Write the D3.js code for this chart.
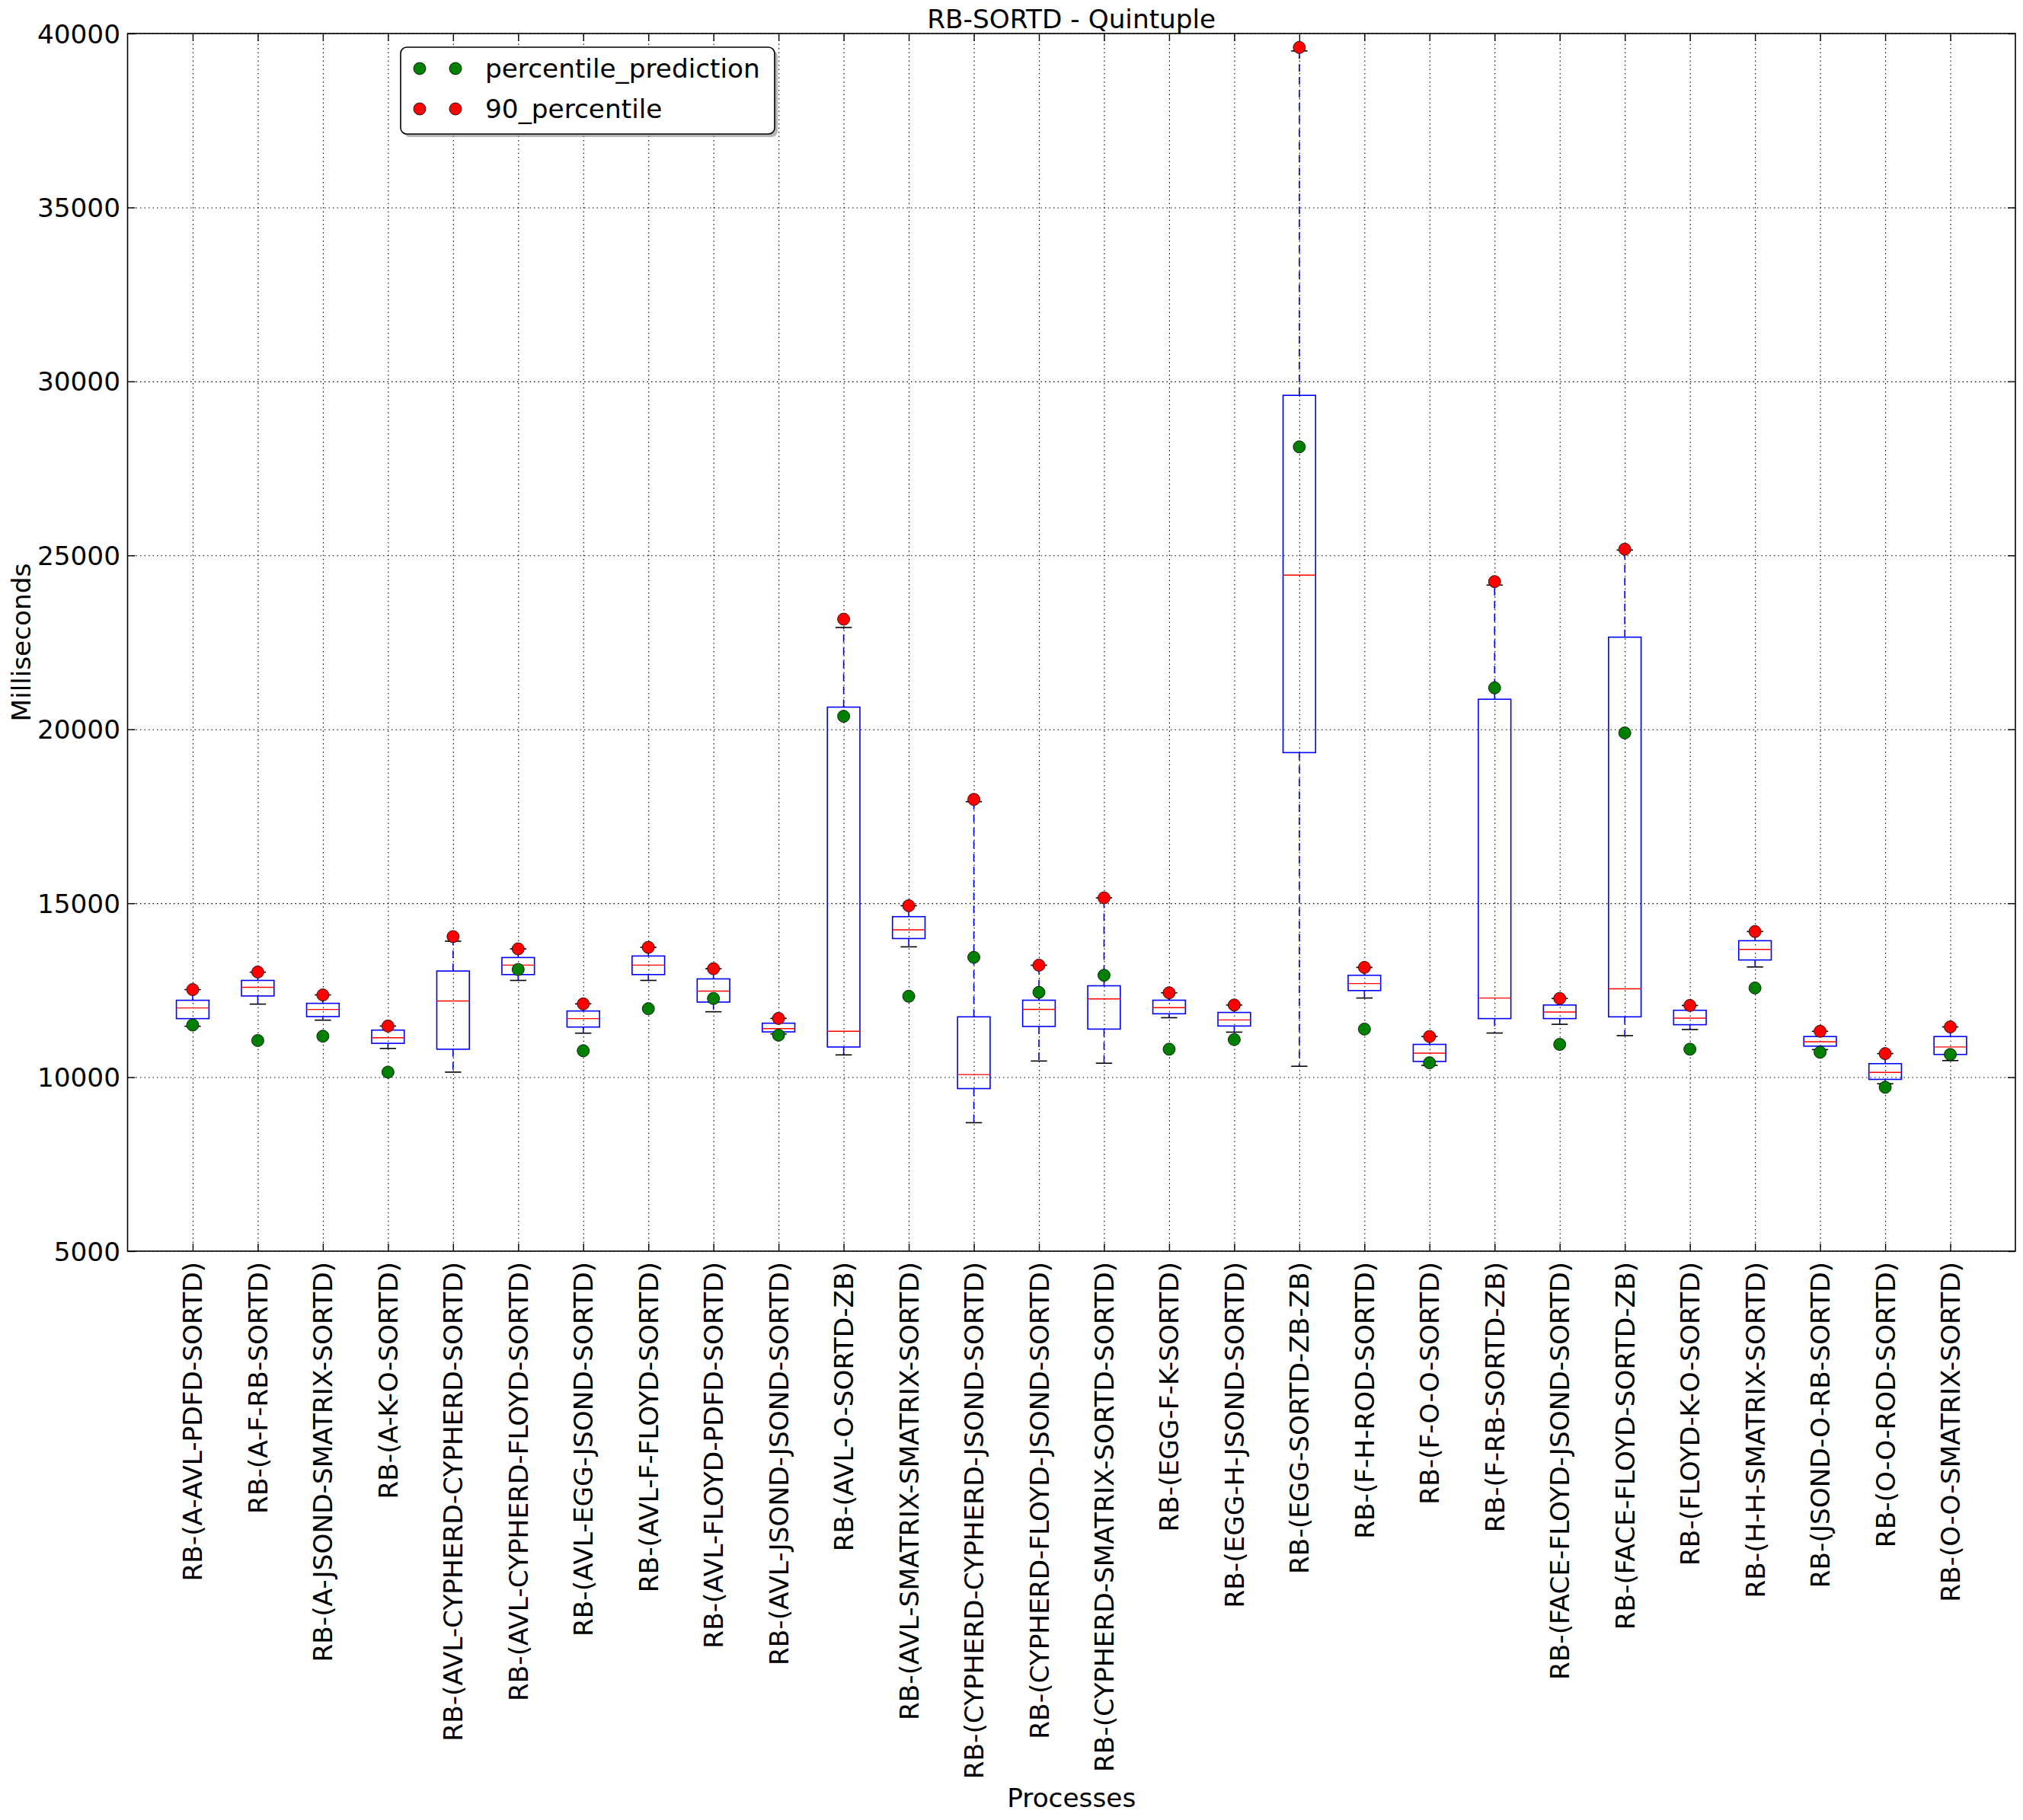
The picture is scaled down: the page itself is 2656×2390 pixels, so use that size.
<!DOCTYPE html>
<html><head><meta charset="utf-8">
<script src="https://cdn.jsdelivr.net/npm/d3@7"></script>
<style>
body{margin:0;background:#fff}
svg{display:block}
text{font-family:"DejaVu Sans",sans-serif;fill:#000}
</style>
</head><body>
<svg id="c" width="2656" height="2390"></svg>
<script>
const categories = [
  "RB-(A-AVL-PDFD-SORTD)","RB-(A-F-RB-SORTD)","RB-(A-JSOND-SMATRIX-SORTD)","RB-(A-K-O-SORTD)",
  "RB-(AVL-CYPHERD-CYPHERD-SORTD)","RB-(AVL-CYPHERD-FLOYD-SORTD)","RB-(AVL-EGG-JSOND-SORTD)",
  "RB-(AVL-F-FLOYD-SORTD)","RB-(AVL-FLOYD-PDFD-SORTD)","RB-(AVL-JSOND-JSOND-SORTD)",
  "RB-(AVL-O-SORTD-ZB)","RB-(AVL-SMATRIX-SMATRIX-SORTD)","RB-(CYPHERD-CYPHERD-JSOND-SORTD)",
  "RB-(CYPHERD-FLOYD-JSOND-SORTD)","RB-(CYPHERD-SMATRIX-SORTD-SORTD)","RB-(EGG-F-K-SORTD)",
  "RB-(EGG-H-JSOND-SORTD)","RB-(EGG-SORTD-ZB-ZB)","RB-(F-H-ROD-SORTD)","RB-(F-O-O-SORTD)",
  "RB-(F-RB-SORTD-ZB)","RB-(FACE-FLOYD-JSOND-SORTD)","RB-(FACE-FLOYD-SORTD-ZB)",
  "RB-(FLOYD-K-O-SORTD)","RB-(H-H-SMATRIX-SORTD)","RB-(JSOND-O-RB-SORTD)",
  "RB-(O-O-ROD-SORTD)","RB-(O-O-SMATRIX-SORTD)"
];
const whiskerLow  = [11464,12101,11640,10827,10146,12782,11266,12782,11881,11244,10641,13747,8692,10465,10402,11710,11295,10314,12276,10340,11270,11521,11195,11371,13169,10792,9811,10478];
const q1          = [11684,12335,11742,10974,10805,12950,11442,12950,12159,11303,10868,13986,9673,11459,11383,11823,11471,19330,12490,10453,11685,11685,11735,11509,13370,10893,9937,10654];
const medians     = [11991,12584,11947,11135,12189,13221,11684,13221,12474,11398,11320,14237,10075,11949,12251,11999,11647,24432,12691,10692,12276,11874,12540,11697,13672,11018,10138,10868];
const q3          = [12211,12782,12123,11354,13052,13440,11903,13484,12826,11552,20638,14615,11735,12213,12628,12213,11861,29599,12930,10943,20864,12075,22649,11924,13923,11169,10390,11169];
const whiskerHigh = [12518,13020,12364,11471,13909,13689,12108,13733,13118,11690,22926,14929,17921,13219,15155,12427,12075,39499,13156,11169,24146,12263,25152,12062,14187,11320,10679,11446];
const percentile90 = [12518,13023,12364,11471,14041,13689,12108,13733,13118,11690,23165,14929,17985,13219,15155,12427,12075,39599,13156,11169,24246,12263,25177,12062,14187,11320,10679,11446];
const percentilePrediction = [11500,11054,11179,10146,null,13096,10761,11969,12262,11208,20374,12326,13445,12439,12930,10805,11081,28118,11383,10415,21191,10943,19896,10805,12565,10717,9711,10654];
const yTicks = [5000,10000,15000,20000,25000,30000,35000,40000];
const legendLabels = ["percentile_prediction","90_percentile"];
const legendColors = ["#008000","#ff0000"];

const FS = 34.3;
const R = 8;
const m = {left:167.5, right:2646, top:44, bottom:1643};
const pw = m.right - m.left, ph = m.bottom - m.top;
const positions = categories.map((d,i)=>i+1);
const x = d3.scaleLinear().domain([0, categories.length + 1]).range([m.left, m.right]);
const y = d3.scaleLinear().domain([5000, 40000]).range([m.bottom, m.top]);
const svg = d3.select("#c");
svg.append("rect").attr("width",2656).attr("height",2390).attr("fill","#fff");

// grid
const gridStyle = g => {
  g.select(".domain").remove();
  g.selectAll("line").attr("stroke","#000").attr("stroke-width",1.1).attr("stroke-dasharray","1.5,4");
};
svg.append("g").attr("transform",`translate(0,${m.bottom})`)
  .call(d3.axisBottom(x).tickValues(positions).tickSize(-ph).tickFormat(""))
  .call(gridStyle);
svg.append("g").attr("transform",`translate(${m.left},0)`)
  .call(d3.axisLeft(y).tickValues(yTicks).tickSize(-pw).tickFormat(""))
  .call(gridStyle);

// boxes
const boxes = svg.append("g");
const hw = 0.25, cw = 0.125;
positions.forEach((p,i)=>{
  const g = boxes.append("g");
  g.append("line").attr("x1",x(p)).attr("x2",x(p)).attr("y1",y(q3[i])).attr("y2",y(whiskerHigh[i]))
    .attr("stroke","#0000ff").attr("stroke-width",1.6).attr("stroke-dasharray","10,7");
  g.append("line").attr("x1",x(p)).attr("x2",x(p)).attr("y1",y(q1[i])).attr("y2",y(whiskerLow[i]))
    .attr("stroke","#0000ff").attr("stroke-width",1.6).attr("stroke-dasharray","10,7");
  [whiskerHigh[i], whiskerLow[i]].forEach(v=>{
    g.append("line").attr("x1",x(p-cw)).attr("x2",x(p+cw)).attr("y1",y(v)).attr("y2",y(v))
      .attr("stroke","#000").attr("stroke-width",1.6);
  });
  g.append("rect").attr("x",x(p-hw)).attr("width",x(p+hw)-x(p-hw))
    .attr("y",y(q3[i])).attr("height",y(q1[i])-y(q3[i]))
    .attr("fill","none").attr("stroke","#0000ff").attr("stroke-width",1.6);
  g.append("line").attr("x1",x(p-hw)).attr("x2",x(p+hw)).attr("y1",y(medians[i])).attr("y2",y(medians[i]))
    .attr("stroke","#ff0000").attr("stroke-width",1.4);
});

// points
const pts = svg.append("g");
positions.forEach((p,i)=>{
  if (percentilePrediction[i] != null)
    pts.append("circle").attr("cx",x(p)).attr("cy",y(percentilePrediction[i])).attr("r",R)
      .attr("fill","#008000").attr("stroke","#000").attr("stroke-width",0.8);
  pts.append("circle").attr("cx",x(p)).attr("cy",y(percentile90[i])).attr("r",R)
    .attr("fill","#ff0000").attr("stroke","#000").attr("stroke-width",0.8);
});

// ticks (inward) and labels
const tickStyle = g => {
  g.select(".domain").remove();
  g.selectAll("line").attr("stroke","#000").attr("stroke-width",1.4);
  g.selectAll("text").attr("font-size",FS).attr("font-family","DejaVu Sans");
};
svg.append("g").attr("transform",`translate(${m.left},0)`)
  .call(d3.axisLeft(y).tickValues(yTicks).tickSize(-10).tickPadding(9.5).tickFormat(d3.format("d")))
  .call(tickStyle)
  .call(g=>g.selectAll("text").attr("dy",null).attr("dominant-baseline","central"));
svg.append("g").attr("transform",`translate(${m.right},0)`)
  .call(d3.axisRight(y).tickValues(yTicks).tickSize(-10).tickFormat(""))
  .call(tickStyle);
svg.append("g").attr("transform",`translate(0,${m.top})`)
  .call(d3.axisTop(x).tickValues(positions).tickSize(-10).tickFormat(""))
  .call(tickStyle);
svg.append("g").attr("transform",`translate(0,${m.bottom})`)
  .call(d3.axisBottom(x).tickValues(positions).tickSize(-10).tickFormat((d,i)=>categories[i]))
  .call(tickStyle)
  .call(g=>g.selectAll("text").attr("y",0).attr("dy",null)
    .attr("transform","translate(0,14) rotate(-90)")
    .attr("text-anchor","end").attr("dominant-baseline","central"));

// frame
svg.append("rect").attr("x",m.left).attr("y",m.top).attr("width",pw).attr("height",ph)
  .attr("fill","none").attr("stroke","#000").attr("stroke-width",1.6);

// titles
svg.append("text").attr("x",(m.left+m.right)/2).attr("y",37).attr("text-anchor","middle")
  .attr("font-size",FS).text("RB-SORTD - Quintuple");
svg.append("text").attr("x",(m.left+m.right)/2).attr("y",2373).attr("text-anchor","middle")
  .attr("font-size",FS).text("Processes");
svg.append("text").attr("transform",`translate(40,${(m.top+m.bottom)/2}) rotate(-90)`)
  .attr("text-anchor","middle").attr("font-size",FS).text("Milliseconds");

// legend
const lg = svg.append("g");
lg.append("rect").attr("x",530).attr("y",66).attr("width",491).attr("height",114).attr("rx",8)
  .attr("fill","#888").attr("opacity",0.6);
lg.append("rect").attr("x",526).attr("y",62).attr("width",491).attr("height",114).attr("rx",8)
  .attr("fill","#fff").attr("stroke","#000").attr("stroke-width",1.6);
legendLabels.forEach((lab,k)=>{
  const cy = 90 + k*53;
  [551,598].forEach(cx=>{
    lg.append("circle").attr("cx",cx).attr("cy",cy).attr("r",R)
      .attr("fill",legendColors[k]).attr("stroke","#000").attr("stroke-width",0.8);
  });
  lg.append("text").attr("x",637).attr("y",cy+12).attr("font-size",FS).text(lab);
});
</script>
</body></html>
